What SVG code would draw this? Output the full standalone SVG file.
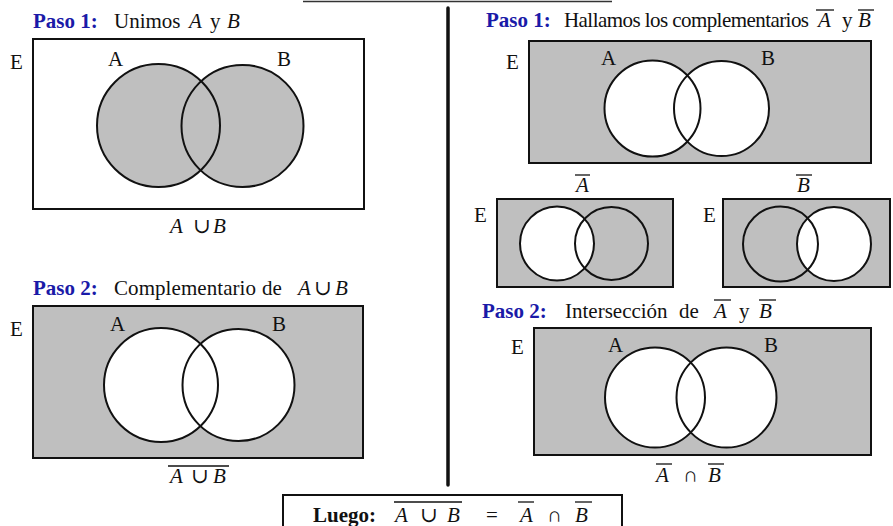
<svg xmlns="http://www.w3.org/2000/svg" width="893" height="526" viewBox="0 0 893 526">
<style>
text{font-family:"Liberation Serif","DejaVu Serif",serif;font-size:21px;fill:#111}
.blue{fill:#1a1aa8;font-weight:bold}
.b{font-weight:bold}
.i{font-style:italic}
.frame{stroke:#111;stroke-width:2}
.g{fill:#bfbfbf}
.w{fill:#ffffff}
.ring{fill:none;stroke:#111;stroke-width:2}
.ov{stroke:#111;stroke-width:1.3}
</style>
<rect width="893" height="526" fill="#ffffff"/>
<g id="topbox">
<line x1="303" y1="1.5" x2="612" y2="1.5" stroke="#333" stroke-width="1.5"/>
</g>
<g id="connectors">
<line x1="448" y1="8" x2="448" y2="485" stroke="#111" stroke-width="3.5" stroke-linecap="round"/>
</g>
<g id="union">
<text y="28"><tspan class="blue" x="33">Paso 1:</tspan><tspan x="114">Unimos</tspan><tspan class="i" x="189">A</tspan><tspan x="210">y</tspan><tspan class="i" x="227">B</tspan></text>
<rect class="frame w" x="33" y="39" width="331" height="170"/>
<circle class="g" cx="158.5" cy="125.5" r="61.5"/>
<circle class="g" cx="242.5" cy="126" r="61"/>
<circle class="ring" cx="158.5" cy="125.5" r="61.5"/>
<circle class="ring" cx="242.5" cy="126" r="61"/>
<text x="10" y="69">E</text>
<text x="108" y="66">A</text>
<text x="277" y="66">B</text>
<text y="233"><tspan class="i" x="170">A</tspan><tspan x="193">∪</tspan><tspan class="i" x="213">B</tspan></text>
</g>
<g id="complement-union">
<text y="295"><tspan class="blue" x="33">Paso 2:</tspan><tspan x="114" textLength="142" lengthAdjust="spacing">Complementario</tspan><tspan x="262">de</tspan><tspan class="i" x="298">A</tspan><tspan x="314">∪</tspan><tspan class="i" x="335">B</tspan></text>
<rect class="frame g" x="33" y="306" width="330" height="152"/>
<circle class="w" cx="161" cy="385" r="57"/>
<circle class="w" cx="238.5" cy="385" r="56"/>
<circle class="ring" cx="161" cy="385" r="57"/>
<circle class="ring" cx="238.5" cy="385" r="56"/>
<text x="10" y="336">E</text>
<text x="110" y="331">A</text>
<text x="272" y="331">B</text>
<text y="483"><tspan class="i" x="170">A</tspan><tspan x="191">∪</tspan><tspan class="i" x="213">B</tspan></text>
<line class="ov" x1="168" y1="466" x2="229" y2="466"/>
</g>
<g id="complements">
<text y="27"><tspan class="blue" x="486">Paso 1:</tspan><tspan x="564" textLength="245" lengthAdjust="spacing">Hallamos los complementarios</tspan><tspan class="i" x="818">A</tspan><tspan x="842">y</tspan><tspan class="i" x="858">B</tspan></text>
<line class="ov" x1="816" y1="10" x2="834" y2="10"/>
<line class="ov" x1="858" y1="10" x2="874" y2="10"/>
<rect class="frame g" x="529" y="41" width="342" height="122"/>
<circle class="w" cx="652.5" cy="108.5" r="48"/>
<circle class="w" cx="721.5" cy="108.5" r="47.5"/>
<circle class="ring" cx="652.5" cy="108.5" r="48"/>
<circle class="ring" cx="721.5" cy="108.5" r="47.5"/>
<text x="506" y="69">E</text>
<text x="601" y="65">A</text>
<text x="761" y="65">B</text>
</g>
<g id="not-a">
<text class="i" x="576" y="192">A</text>
<line class="ov" x1="575" y1="175" x2="590" y2="175"/>
<rect class="frame g" x="497" y="199" width="176" height="88"/>
<circle class="w" cx="557" cy="243.5" r="37"/>
<circle class="ring" cx="557" cy="243.5" r="37"/>
<circle class="ring" cx="611.5" cy="243.5" r="36.5"/>
<text x="474" y="222">E</text>
</g>
<g id="not-b">
<text class="i" x="797" y="192">B</text>
<line class="ov" x1="796" y1="175" x2="812" y2="175"/>
<rect class="frame g" x="723" y="199" width="167" height="88"/>
<circle class="w" cx="834" cy="244" r="37"/>
<circle class="ring" cx="780.5" cy="244" r="37.5"/>
<circle class="ring" cx="834" cy="244" r="37"/>
<text x="703" y="222">E</text>
</g>
<g id="intersection">
<text y="318"><tspan class="blue" x="482">Paso 2:</tspan><tspan x="565">Intersección</tspan><tspan x="679">de</tspan><tspan class="i" x="714">A</tspan><tspan x="739">y</tspan><tspan class="i" x="759">B</tspan></text>
<line class="ov" x1="714" y1="300" x2="731" y2="300"/>
<line class="ov" x1="759" y1="300" x2="776" y2="300"/>
<rect class="frame g" x="534" y="328" width="337" height="127"/>
<circle class="w" cx="655" cy="397.5" r="50"/>
<circle class="w" cx="726.5" cy="397.5" r="50"/>
<circle class="ring" cx="655" cy="397.5" r="50"/>
<circle class="ring" cx="726.5" cy="397.5" r="50"/>
<text x="511" y="354">E</text>
<text x="608" y="352">A</text>
<text x="764" y="352">B</text>
<text y="482"><tspan class="i" x="656">A</tspan><tspan x="683">∩</tspan><tspan class="i" x="708">B</tspan></text>
<line class="ov" x1="656" y1="464" x2="672" y2="464"/>
<line class="ov" x1="708" y1="464" x2="724" y2="464"/>
</g>
<g id="conclusion">
<rect class="frame w" x="283" y="495" width="339" height="40"/>
<text y="522"><tspan class="b" x="313">Luego:</tspan><tspan class="i" x="395">A</tspan><tspan x="420">∪</tspan><tspan class="i" x="447">B</tspan><tspan x="486">=</tspan><tspan class="i" x="520">A</tspan><tspan x="547">∩</tspan><tspan class="i" x="575">B</tspan></text>
<line class="ov" x1="394" y1="502" x2="462" y2="502"/>
<line class="ov" x1="518" y1="502" x2="534" y2="502"/>
<line class="ov" x1="575" y1="502" x2="592" y2="502"/>
</g>
</svg>
